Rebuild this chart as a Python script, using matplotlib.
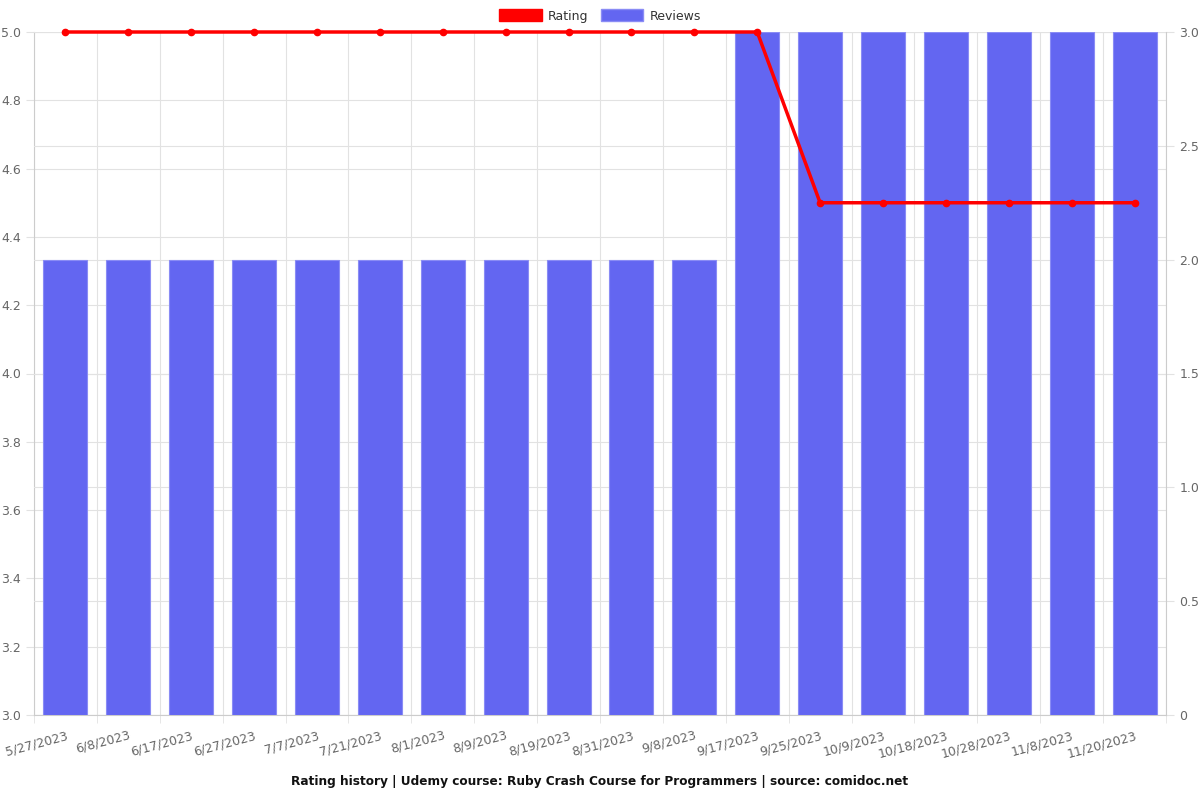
import matplotlib
matplotlib.use("Agg")
import matplotlib.pyplot as plt
import numpy as np
from matplotlib.patches import Patch

dates = ["5/27/2023", "6/8/2023", "6/17/2023", "6/27/2023", "7/7/2023", "7/21/2023",
         "8/1/2023", "8/9/2023", "8/19/2023", "8/31/2023", "9/8/2023", "9/17/2023",
         "9/25/2023", "10/9/2023", "10/18/2023", "10/28/2023", "11/8/2023", "11/20/2023"]
rating = [5.0, 5.0, 5.0, 5.0, 5.0, 5.0, 5.0, 5.0, 5.0, 5.0, 5.0, 5.0,
          4.5, 4.5, 4.5, 4.5, 4.5, 4.5]
reviews = [2, 2, 2, 2, 2, 2, 2, 2, 2, 2, 2, 3, 3, 3, 3, 3, 3, 3]

plt.rcParams['font.family'] = ['DejaVu Sans']
fig = plt.figure(figsize=(12, 8), dpi=100)
ax = fig.add_axes([34/1200, 1-715/800, (1166-34)/1200, (715-32)/800])
ax2 = ax.twinx()
ax3 = ax.twinx()

x = np.arange(len(dates))
grid_c = "#e2e2e2"
tick_c = "#666666"

# left axis: ticks + grid (bottom layer)
ax.set_ylim(3.0, 5.0)
ax.set_yticks(np.arange(3.0, 5.01, 0.2))
ax.set_yticklabels([f"{v:.1f}" for v in np.arange(3.0, 5.01, 0.2)])
ax.set_xlim(-0.5, len(dates) - 0.5)
ax.set_xticks(x)
ax.set_xticklabels(dates, rotation=15, ha='right', rotation_mode='anchor')
ax.set_xticks(np.arange(-0.5, len(dates), 1.0), minor=True)
ax.tick_params(axis='x', which='major', length=0, pad=10)
ax.grid(axis='y', color=grid_c, linewidth=0.8)
ax.grid(axis='x', which='minor', color=grid_c, linewidth=0.8)
ax.set_axisbelow(True)

# right axis: bars
ax2.bar(x, reviews, width=0.7, color="#6366f1", edgecolor="#8a8cf5", linewidth=0.8, zorder=2)
ax2.set_ylim(0, 3)
ax2.set_yticks([0, 0.5, 1.0, 1.5, 2.0, 2.5, 3.0])
ax2.set_yticklabels(["0", "0.5", "1.0", "1.5", "2.0", "2.5", "3.0"])
ax2.grid(axis='y', color=grid_c, linewidth=0.8, zorder=0)
ax2.set_axisbelow(True)

# top layer: rating line
ax3.plot(x, rating, color="#ff0000", linewidth=2.5, marker='o', markersize=4.5, zorder=5, clip_on=False)
ax3.set_ylim(3.0, 5.0)
ax3.set_yticks([])
for s in ax3.spines.values():
    s.set_visible(False)

for a in (ax, ax2):
    for s in a.spines.values():
        s.set_visible(False)
    a.tick_params(axis='y', colors=tick_c, labelsize=9, length=6, width=0.8)
    a.tick_params(axis='y', color=grid_c)
ax.tick_params(axis='x', colors=tick_c, labelsize=9)
ax.tick_params(axis='x', which='minor', length=6, color=grid_c)
ax.spines['left'].set_visible(True)
ax.spines['left'].set_color("#cccccc")
ax.spines['bottom'].set_visible(True)
ax.spines['bottom'].set_color("#cccccc")
ax2.spines['right'].set_visible(True)
ax2.spines['right'].set_color("#cccccc")

handles = [Patch(facecolor="#ff0000", edgecolor="#ff0000"),
           Patch(facecolor="#6366f1", edgecolor="#8a8cf5")]
fig.legend(handles, ["Rating", "Reviews"], loc='center', bbox_to_anchor=(0.5, 1-16/800),
           ncol=2, frameon=False, fontsize=9, handlelength=3.4, handleheight=1.1,
           columnspacing=1.0, handletextpad=0.5, labelcolor="#333333")

fig.text(0.5, 1-782/800, "Rating history | Udemy course: Ruby Crash Course for Programmers | source: comidoc.net",
         ha='center', va='center', fontsize=8.7, fontweight='bold', color="#111111")

fig.savefig("out.png", dpi=100)
